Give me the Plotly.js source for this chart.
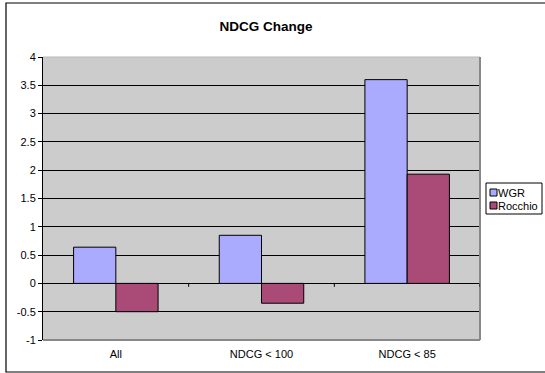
<!DOCTYPE html>
<html>
<head>
<meta charset="utf-8">
<script src="https://cdn.plot.ly/plotly-3.0.1.min.js"></script>
<style>
  html, body { margin: 0; padding: 0; background: #fff; }
  #chart { width: 545px; height: 373px; }
</style>
</head>
<body>
<div id="chart"></div>
<script>
// NDCG change per query subset, two feedback methods
const categories = ['All', 'NDCG < 100', 'NDCG < 85'];
const wgr = [0.64, 0.85, 3.6];
const rocchio = [-0.5, -0.35, 1.93];
const seriesNames = ['WGR', 'Rocchio'];
const seriesColors = ['#AAAAFF', '#AA4A77'];
const yTicks = [-1, -0.5, 0, 0.5, 1, 1.5, 2, 2.5, 3, 3.5, 4];

// Plot area geometry in pixels (used to place the legend box and frame)
const W = 545, H = 373;
const L = 43, R = 480, T = 57, B = 340;
const px = v => (v - L) / (R - L);
const py = v => (B - v) / (B - T);

const traces = [wgr, rocchio].map((vals, i) => ({
  type: 'bar',
  x: categories,
  y: vals,
  name: seriesNames[i],
  marker: { color: seriesColors[i], line: { color: '#000', width: 1 } },
  hoverinfo: 'x+y'
}));

const shapes = [];
// outer chart frame
shapes.push({ type: 'rect', xref: 'paper', yref: 'paper',
  x0: px(6), x1: px(560), y0: py(372), y1: py(3),
  line: { color: '#000', width: 1.2 }, layer: 'below' });
// plot area edges: top light, right/bottom darker gray
shapes.push({ type: 'line', xref: 'paper', yref: 'paper', x0: 0, x1: 1, y0: 1, y1: 1,
  line: { color: '#b8b8b8', width: 1 } });
shapes.push({ type: 'line', xref: 'paper', yref: 'paper', x0: 0, x1: 1, y0: 0, y1: 0,
  line: { color: '#888', width: 2 } });
shapes.push({ type: 'line', xref: 'paper', yref: 'paper', x0: 1, x1: 1, y0: 0, y1: 1,
  line: { color: '#888', width: 2 } });
// category separators on the zero line
[0.5, 1.5, 2.5].forEach(xv => {
  shapes.push({ type: 'line', xref: 'x', yref: 'y', x0: xv, x1: xv, y0: 0, y1: -0.06,
    line: { color: '#000', width: 1 } });
});
// legend box and swatches
shapes.push({ type: 'rect', xref: 'paper', yref: 'paper',
  x0: px(486), x1: px(542), y0: py(214), y1: py(183),
  line: { color: '#000', width: 1 }, fillcolor: '#fff' });
const swY = [189, 202];
seriesColors.forEach((c, i) => {
  shapes.push({ type: 'rect', xref: 'paper', yref: 'paper',
    x0: px(490), x1: px(497), y0: py(swY[i] + 7), y1: py(swY[i]),
    line: { color: '#000', width: 1 }, fillcolor: c });
});

const annotations = seriesNames.map((n, i) => ({
  xref: 'paper', yref: 'paper', x: px(495.5), y: py(swY[i] + 3.5),
  xanchor: 'left', yanchor: 'middle', text: n, showarrow: false,
  font: { family: 'Liberation Sans, Arial, sans-serif', size: 11, color: '#000' }
}));

const layout = {
  width: W, height: H,
  margin: { l: L, r: W - R, t: T, b: H - B, pad: 0 },
  paper_bgcolor: '#fff',
  plot_bgcolor: '#CCCCCC',
  font: { family: 'Liberation Sans, Arial, sans-serif', size: 11, color: '#000' },
  title: {
    text: '<b>NDCG Change</b>',
    x: 266 / W, xref: 'container', xanchor: 'center',
    y: 1 - 26 / H, yref: 'container', yanchor: 'middle',
    font: { family: 'Liberation Sans, Arial, sans-serif', size: 13.5, color: '#000' }
  },
  barmode: 'group',
  bargap: 0.42,
  bargroupgap: 0,
  showlegend: false,
  xaxis: {
    type: 'category',
    range: [-0.5, 2.5],
    showgrid: false, showline: false, zeroline: false,
    ticks: '', ticklabelstandoff: 6,
    tickfont: { size: 11 }
  },
  yaxis: {
    range: [-1, 4],
    tickvals: yTicks,
    ticktext: yTicks.map(String),
    showgrid: true, gridcolor: '#000', gridwidth: 1,
    zeroline: true, zerolinecolor: '#000', zerolinewidth: 1,
    showline: true, linecolor: '#000', linewidth: 1,
    ticks: 'outside', ticklen: 4, tickcolor: '#000',
    tickfont: { size: 11 }
  },
  shapes: shapes,
  annotations: annotations
};

Plotly.newPlot('chart', traces, layout, { displayModeBar: false, staticPlot: true });
</script>
</body>
</html>
